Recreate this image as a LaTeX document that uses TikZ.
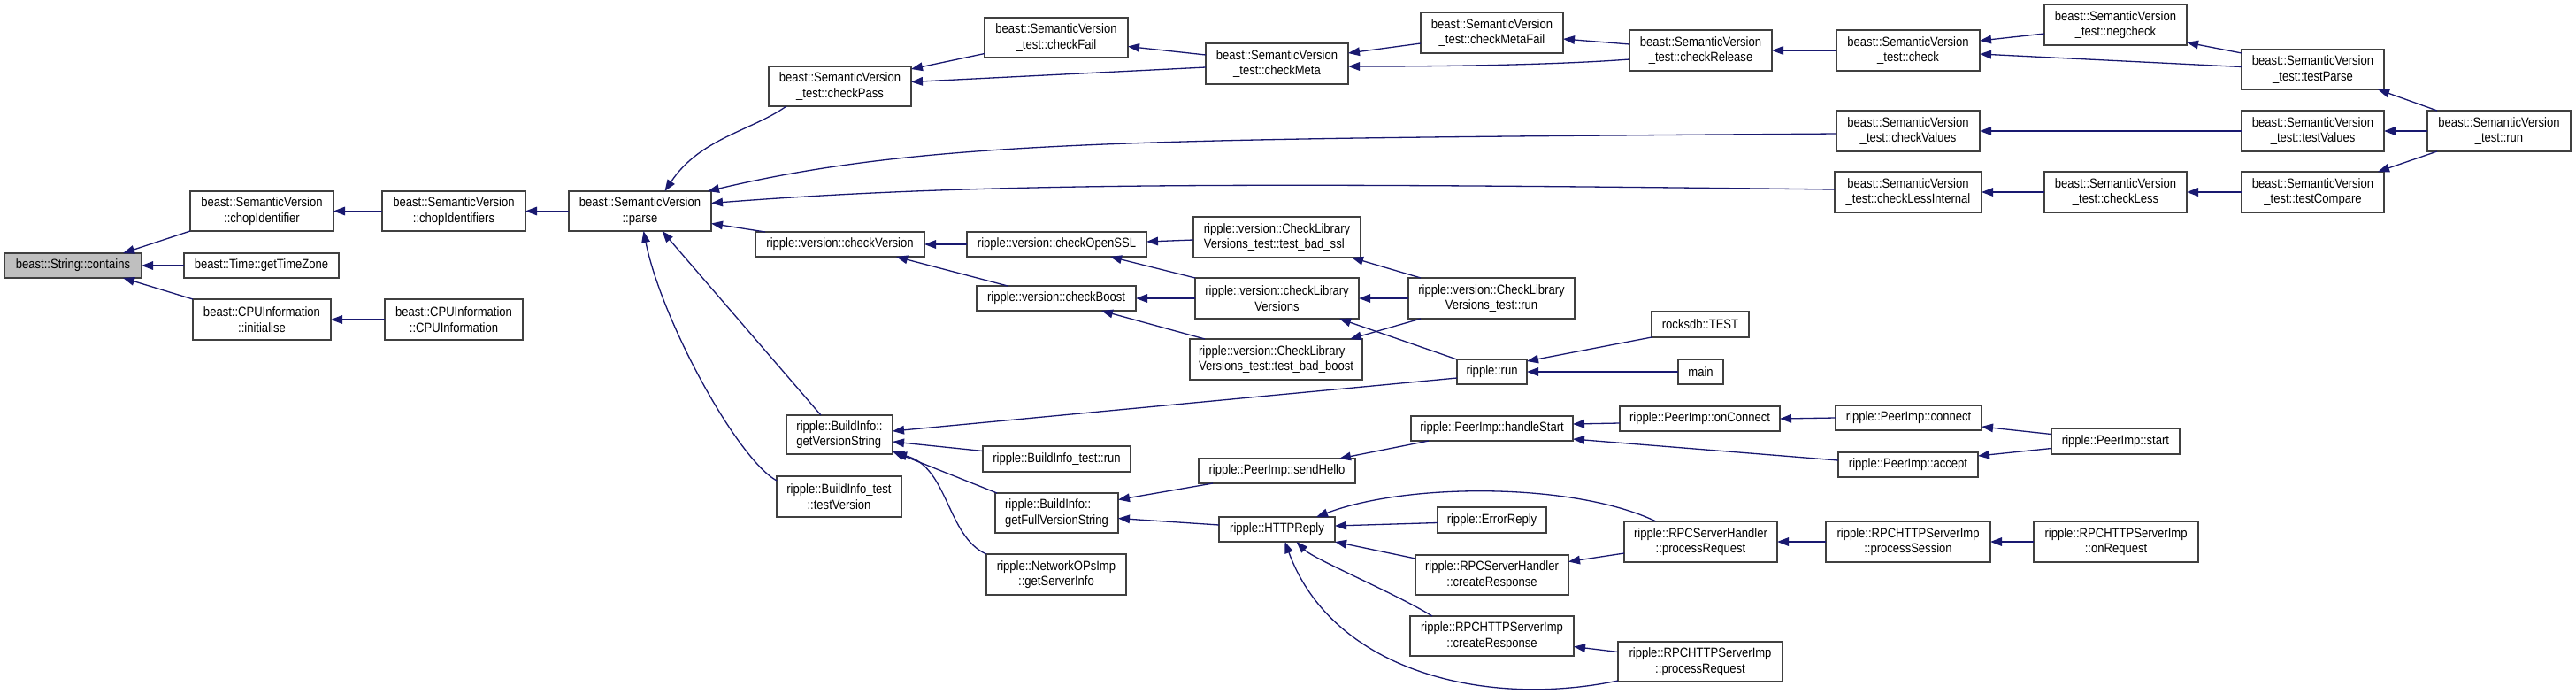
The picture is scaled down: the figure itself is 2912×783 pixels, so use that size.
\documentclass[tikz,border=0pt]{standalone}
\usepackage{fontspec}
\setmainfont{Liberation Sans}[FakeStretch=0.87]
\usetikzlibrary{arrows.meta,calc}
\definecolor{edgec}{HTML}{191970}
\definecolor{boxc}{HTML}{404040}
\definecolor{hl}{HTML}{BFBFBF}
\tikzset{
 gbox/.style={draw=boxc, line width=0.7pt, fill=white, rectangle, inner sep=0pt, outer sep=0pt, align=center, font=\fontsize{7.5}{8.85}\selectfont},
 cedge/.style={draw=edgec, line width=0.65pt, -{Triangle[length=6.5pt,width=4.8pt]}},
}
\newcommand\gn[7]{\node[gbox,#2,minimum width={(#5-#4)*0.5pt},minimum height={(#7-#6)*0.5pt}] (#1) at ({(#4+#5)/2},{(#6+#7)/2}) {#3};}
\begin{document}
\begin{tikzpicture}[x=0.5pt,y=-0.5pt]
\fill[white] (0,0) rectangle (2912,783);
\useasboundingbox (0,0) rectangle (2912,783);
\gn{contains}{fill=hl}{beast::String::contains}{5}{160}{286}{314}
\gn{chopid}{}{beast::SemanticVersion\\::chopIdentifier}{215}{377}{216}{261}
\gn{gettz}{}{beast::Time::getTimeZone}{208}{383}{286}{314}
\gn{init}{}{beast::CPUInformation\\::initialise}{218}{374}{338}{384}
\gn{chopids}{}{beast::SemanticVersion\\::chopIdentifiers}{432}{594}{216}{261}
\gn{cpuinfo}{}{beast::CPUInformation\\::CPUInformation}{435}{591}{338}{384}
\gn{parse}{}{beast::SemanticVersion\\::parse}{643}{804}{216}{261}
\gn{checkpass}{}{beast::SemanticVersion\\\_test::checkPass}{869}{1030}{75}{120}
\gn{checkfail}{}{beast::SemanticVersion\\\_test::checkFail}{1113}{1275}{20}{65}
\gn{checkmeta}{}{beast::SemanticVersion\\\_test::checkMeta}{1363}{1524}{49}{95}
\gn{checkmetafail}{}{beast::SemanticVersion\\\_test::checkMetaFail}{1606}{1767}{14}{60}
\gn{checkrelease}{}{beast::SemanticVersion\\\_test::checkRelease}{1842}{2003}{34}{80}
\gn{check}{}{beast::SemanticVersion\\\_test::check}{2076}{2238}{34}{80}
\gn{negcheck}{}{beast::SemanticVersion\\\_test::negcheck}{2311}{2472}{5}{51}
\gn{testparse}{}{beast::SemanticVersion\\\_test::testParse}{2534}{2695}{56}{101}
\gn{checkvalues}{}{beast::SemanticVersion\\\_test::checkValues}{2076}{2238}{125}{171}
\gn{testvalues}{}{beast::SemanticVersion\\\_test::testValues}{2534}{2695}{125}{171}
\gn{svrun}{}{beast::SemanticVersion\\\_test::run}{2744}{2906}{125}{171}
\gn{checklessint}{}{beast::SemanticVersion\\\_test::checkLessInternal}{2074}{2240}{194}{240}
\gn{checkless}{}{beast::SemanticVersion\\\_test::checkLess}{2311}{2472}{194}{240}
\gn{testcompare}{}{beast::SemanticVersion\\\_test::testCompare}{2534}{2695}{194}{240}
\gn{checkversion}{}{ripple::version::checkVersion}{854}{1045}{262}{290}
\gn{checkopenssl}{}{ripple::version::checkOpenSSL}{1093}{1296}{262}{290}
\gn{badssl}{align=left}{ripple::version::CheckLibrary\\Versions\_test::test\_bad\_ssl}{1349}{1538}{245}{291}
\gn{checkboost}{}{ripple::version::checkBoost}{1104}{1284}{323}{351}
\gn{clv}{}{ripple::version::checkLibrary\\Versions}{1351}{1536}{314}{360}
\gn{badboost}{align=left}{ripple::version::CheckLibrary\\Versions\_test::test\_bad\_boost}{1345}{1540}{383}{429}
\gn{clvrun}{}{ripple::version::CheckLibrary\\Versions\_test::run}{1592}{1780}{314}{360}
\gn{rocksdb}{}{rocksdb::TEST}{1867}{1977}{352}{381}
\gn{rrun}{}{ripple::run}{1647}{1726}{406}{434}
\gn{mainfn}{}{main}{1897}{1948}{406}{434}
\gn{getversion}{align=left}{ripple::BuildInfo::\\getVersionString}{889}{1009}{469}{513}
\gn{testversion}{}{ripple::BuildInfo\_test\\::testVersion}{878}{1019}{538}{584}
\gn{birun}{}{ripple::BuildInfo\_test::run}{1111}{1278}{504}{533}
\gn{getfull}{align=left}{ripple::BuildInfo::\\getFullVersionString}{1125}{1264}{557}{602}
\gn{serverinfo}{}{ripple::NetworkOPsImp\\::getServerInfo}{1115}{1273}{626}{672}
\gn{sendhello}{}{ripple::PeerImp::sendHello}{1355}{1532}{518}{546}
\gn{httpreply}{}{ripple::HTTPReply}{1378}{1509}{584}{612}
\gn{handlestart}{}{ripple::PeerImp::handleStart}{1595}{1778}{470}{498}
\gn{onconnect}{}{ripple::PeerImp::onConnect}{1831}{2012}{459}{487}
\gn{connect}{}{ripple::PeerImp::connect}{2075}{2240}{458}{486}
\gn{accept}{}{ripple::PeerImp::accept}{2078}{2236}{511}{539}
\gn{pstart}{}{ripple::PeerImp::start}{2319}{2464}{484}{513}
\gn{errorreply}{}{ripple::ErrorReply}{1625}{1748}{573}{602}
\gn{rpcproc}{}{ripple::RPCServerHandler\\::processRequest}{1836}{2009}{589}{635}
\gn{rpccreate}{}{ripple::RPCServerHandler\\::createResponse}{1600}{1773}{627}{672}
\gn{httpcreate}{}{ripple::RPCHTTPServerImp\\::createResponse}{1594}{1779}{696}{741}
\gn{httpproc}{}{ripple::RPCHTTPServerImp\\::processRequest}{1829}{2015}{725}{770}
\gn{session}{}{ripple::RPCHTTPServerImp\\::processSession}{2064}{2250}{589}{635}
\gn{onrequest}{}{ripple::RPCHTTPServerImp\\::onRequest}{2299}{2485}{589}{635}
% edges
\draw[cedge] (chopid.south west) -- ($(contains.north east)+(-21,0)$);
\draw[cedge] (gettz.west) -- (contains.east);
\draw[cedge] (init.north west) -- ($(contains.south east)+(-21,0)$);
\draw[cedge] (chopids.west) -- (chopid.east);
\draw[cedge] (cpuinfo.west) -- (init.east);
\draw[cedge] (parse.west) -- (chopids.east);
\draw[cedge] ($(checkpass.south west)+(20,0)$) .. controls +(-40,28) and +(40,-60) .. ($(parse.north)+(28,0)$);
\draw[cedge] ($(checkvalues.west)+(0,3)$) .. controls +(-776,6) and +(250,-59) .. ($(parse.north east)+(-4,0)$);
\draw[cedge] ($(checklessint.west)+(0,-3)$) .. controls +(-674,-8) and +(296,-23) .. ($(parse.east)+(0,-9)$);
\draw[cedge] ($(checkversion.north west)+(11,0)$) -- ($(parse.east)+(0,14)$);
\draw[cedge] ($(getversion.north)+(-21,0)$) -- ($(parse.south)+(25,0)$);
\draw[cedge] ($(testversion.west)+(0,-18)$) .. controls +(-45,-25) and +(20,100) .. ($(parse.south)+(4,0)$);
\draw[cedge] ($(checkfail.west)+(0,18)$) -- ($(checkpass.north east)+(0,3)$);
\draw[cedge] ($(checkmeta.west)+(0,4)$) -- ($(checkpass.east)+(0,-5)$);
\draw[cedge] ($(checkmeta.west)+(0,-10)$) -- ($(checkfail.east)+(0,10)$);
\draw[cedge] ($(checkmetafail.west)+(0,12)$) -- ($(checkmeta.east)+(0,-12)$);
\draw[cedge] ($(checkrelease.west)+(0,10)$) .. controls +(-80,6) and +(120,0) .. ($(checkmeta.east)+(0,3)$);
\draw[cedge] ($(checkrelease.west)+(0,-7)$) -- ($(checkmetafail.east)+(0,7)$);
\draw[cedge] (check.west) -- (checkrelease.east);
\draw[cedge] ($(negcheck.west)+(0,10)$) -- ($(check.east)+(0,-11)$);
\draw[cedge] ($(testparse.west)+(0,-3)$) -- ($(check.east)+(0,4)$);
\draw[cedge] ($(testparse.north west)+(0,4)$) -- ($(negcheck.south east)+(0,-3)$);
\draw[cedge] ($(svrun.north west)+(11,0)$) -- ($(testparse.south east)+(-7,0)$);
\draw[cedge] (svrun.west) -- (testvalues.east);
\draw[cedge] ($(svrun.south west)+(11,0)$) -- ($(testcompare.north east)+(-7,0)$);
\draw[cedge] (testvalues.west) -- (checkvalues.east);
\draw[cedge] (checkless.west) -- (checklessint.east);
\draw[cedge] (testcompare.west) -- (checkless.east);
\draw[cedge] (checkopenssl.west) -- (checkversion.east);
\draw[cedge] ($(checkboost.north west)+(35,0)$) -- ($(checkversion.south east)+(-32,0)$);
\draw[cedge] ($(badssl.west)+(0,3)$) -- ($(checkopenssl.east)+(0,-3)$);
\draw[cedge] (clv.north west) -- ($(checkopenssl.south east)+(-41,0)$);
\draw[cedge] (clv.west) -- (checkboost.east);
\draw[cedge] ($(badboost.north west)+(17,0)$) -- ($(checkboost.south east)+(-39,0)$);
\draw[cedge] ($(clvrun.north west)+(14,0)$) -- ($(badssl.south east)+(-10,0)$);
\draw[cedge] (clvrun.west) -- (clv.east);
\draw[cedge] ($(clvrun.south west)+(14,0)$) -- ($(badboost.north east)+(-14,0)$);
\draw[cedge] (rrun.north west) -- ($(clv.south east)+(-22,0)$);
\draw[cedge] ($(rrun.west)+(0,7)$) -- ($(getversion.east)+(0,-4)$);
\draw[cedge] (rocksdb.south west) -- ($(rrun.north east)+(0,2)$);
\draw[cedge] (mainfn.west) -- (rrun.east);
\draw[cedge] ($(birun.west)+(0,-9)$) -- ($(getversion.east)+(0,8)$);
\draw[cedge] ($(getfull.north west)+(2,0)$) -- ($(getversion.south east)+(0,-3)$);
\draw[cedge] (serverinfo.north west) .. controls +(-45,-20) and +(60,15) .. ($(getversion.south east)+(3,-1)$);
\draw[cedge] ($(sendhello.south west)+(16,0)$) -- ($(getfull.east)+(0,-15)$);
\draw[cedge] ($(httpreply.west)+(0,-5)$) -- ($(getfull.east)+(0,6)$);
\draw[cedge] ($(handlestart.south west)+(20,0)$) -- ($(sendhello.north east)+(-18,0)$);
\draw[cedge] ($(onconnect.west)+(0,5)$) -- ($(handlestart.east)+(0,-5)$);
\draw[cedge] ($(accept.west)+(0,-5)$) -- ($(handlestart.south east)+(0,-2)$);
\draw[cedge] (connect.west) -- (onconnect.east);
\draw[cedge] ($(pstart.west)+(0,-8)$) -- ($(connect.east)+(0,10)$);
\draw[cedge] ($(pstart.west)+(0,8)$) -- ($(accept.east)+(0,-10)$);
\draw[cedge] ($(errorreply.west)+(0,3)$) -- ($(httpreply.east)+(0,-4)$);
\draw[cedge] ($(rpcproc.north west)+(36,0)$) .. controls +(-92,-44) and +(103,-39) .. ($(httpreply.north east)+(-21,0)$);
\draw[cedge] ($(rpccreate.north west)+(0,4)$) -- (httpreply.south east);
\draw[cedge] ($(httpcreate.north west)+(25,0)$) .. controls +(-40,-25) and +(20,20) .. ($(httpreply.south)+(22,0)$);
\draw[cedge] ($(httpproc.south west)+(0,-1)$) .. controls +(-149,31) and +(54,147) .. ($(httpreply.south)+(9,0)$);
\draw[cedge] ($(rpcproc.west)+(0,13)$) -- ($(rpccreate.east)+(0,-15)$);
\draw[cedge] (session.west) -- (rpcproc.east);
\draw[cedge] (onrequest.west) -- (session.east);
\draw[cedge] ($(httpproc.west)+(0,-11)$) -- ($(httpcreate.east)+(0,12)$);
\end{tikzpicture}
\end{document}
